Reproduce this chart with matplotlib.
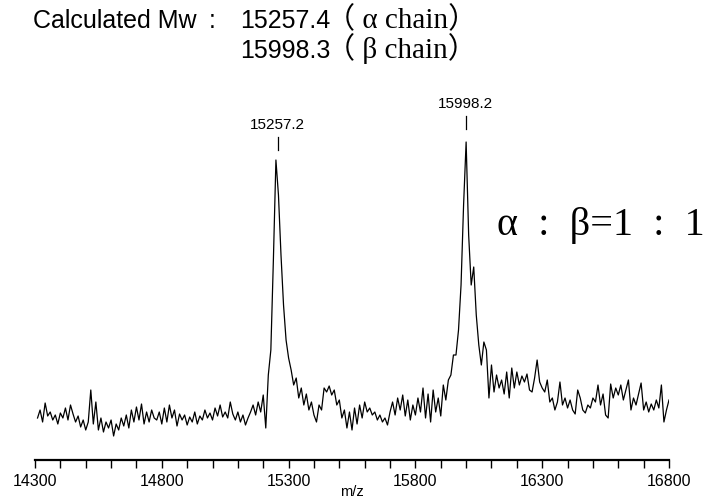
# MALDI-TOF mass spectrum of the alpha / beta chains
import numpy as np
import matplotlib.pyplot as plt

# m/z grid (10 units per point)
mz = np.arange(14310, 16801, 10)

# intensity (arbitrary units), segment by segment
base_left = [42, 50, 38, 57, 44, 48, 40, 45, 36, 47,
             42, 52, 40, 55, 46, 38, 44, 33, 40, 30,
             38, 70, 36, 58, 30, 42, 28, 38, 32, 40,
             24, 36, 30, 42, 34, 45, 32, 50, 38, 53,
             40, 56, 36, 48, 38, 50, 42]
base_mid = [40, 48, 36, 52, 38, 55, 42, 50, 34, 46,
            40, 45, 35, 43, 38, 48, 36, 44, 40, 50,
            42, 47, 40, 52, 44, 55, 43, 48, 42, 58,
            46, 40, 48, 38, 45, 35, 42, 48, 55, 45,
            58]
alpha_peak = [48, 65, 32, 85, 110, 200, 300, 265, 205, 155, 120]
between = [102, 90, 75, 82, 62, 72, 55, 66, 50, 58,
           45, 38, 55, 50, 72, 68, 74, 65, 70, 55,
           60, 42, 50, 32, 48, 30, 52, 36, 55, 42,
           58, 48, 52, 45, 48, 40, 45, 38, 42, 35,
           48, 58, 45, 62, 50, 65, 44, 60, 40, 55,
           45, 62, 48, 72, 42, 66, 38, 70, 48, 62,
           44, 75, 60, 80]
beta_peak = [85, 105, 105, 130, 175, 255, 318, 225, 175, 193,
             145, 115, 95, 118, 110]
base_right = [62, 95, 68, 85, 72, 80, 66, 88, 62, 92,
              72, 88, 75, 84, 78, 86, 70, 68, 82, 100,
              78, 72, 68, 80, 58, 62, 50, 58, 78, 55,
              62, 52, 60, 50, 46, 70, 62, 50, 47, 55,
              52, 62, 58, 75, 55, 66, 45, 42, 76, 62,
              72, 65, 75, 60, 70, 80, 50, 62, 55, 66,
              77, 50, 58, 48, 56, 50, 60, 52, 75, 38,
              50, 60]
intensity = base_left + base_mid + alpha_peak + between + beta_peak + base_right

peak_pos = [15257.2, 15998.2]
peak_labels = ['15257.2', '15998.2']
peak_label_y = [335, 356]

major_ticks = [14300, 14800, 15300, 15800, 16300, 16800]

fig = plt.figure(figsize=(7.17, 5.01), dpi=100)
ax = fig.add_axes([35 / 717, 41 / 501, 634 / 717, 360 / 501])

ax.plot(mz, intensity, color='black', lw=0.9)

# peak markers
for x, lab, y in zip(peak_pos, peak_labels, peak_label_y):
    ax.text(x, y, lab, ha='center', va='center', fontsize=11,
            family='Liberation Sans', clip_on=False)
    ax.plot([x, x], [y - 25, y - 12], color='black', lw=0.9, clip_on=False)

ax.set_xlim(14300, 16800)
ax.set_ylim(0, 360)
ax.set_xticks(major_ticks)
ax.set_xticks(np.arange(14300, 16801, 100), minor=True)
ax.set_xticklabels([str(t) for t in major_ticks], family='Liberation Sans', fontsize=11.5)
ax.tick_params(axis='x', which='both', direction='out', length=6, width=1, pad=4)
ax.set_yticks([])
for s in ['left', 'right', 'top']:
    ax.spines[s].set_visible(False)
ax.spines['bottom'].set_linewidth(1.6)
fig.text(352 / 717, 1 - 492 / 501, 'm/z', family='Liberation Sans',
         fontsize=10.5, ha='center', va='center')

# header text
sans = ['Liberation Sans', 'Noto Sans CJK JP']
serif = ['Liberation Serif', 'Noto Sans CJK JP']
fig.text(33 / 717, 1 - 28 / 501, 'Calculated Mw', fontsize=18,
         family=sans, va='baseline')
fig.text(212 / 717, 1 - 28 / 501, ':', fontsize=18,
         family=sans, va='baseline', ha='center')
fig.text(240 / 717, 1 - 28 / 501, '15257.4', fontsize=18,
         family=sans, va='baseline')
fig.text(326 / 717, 1 - 28 / 501, '（ α chain）', fontsize=21,
         family=serif, va='baseline')
fig.text(240 / 717, 1 - 58 / 501, '15998.3', fontsize=18,
         family=sans, va='baseline')
fig.text(326 / 717, 1 - 58 / 501, '（ β chain）', fontsize=21,
         family=serif, va='baseline')

fig.text(497 / 717, 1 - 225 / 501, 'α  :  β=1  :  1', fontsize=29,
         family=serif, va='center')

plt.savefig('out.png', dpi=100)
